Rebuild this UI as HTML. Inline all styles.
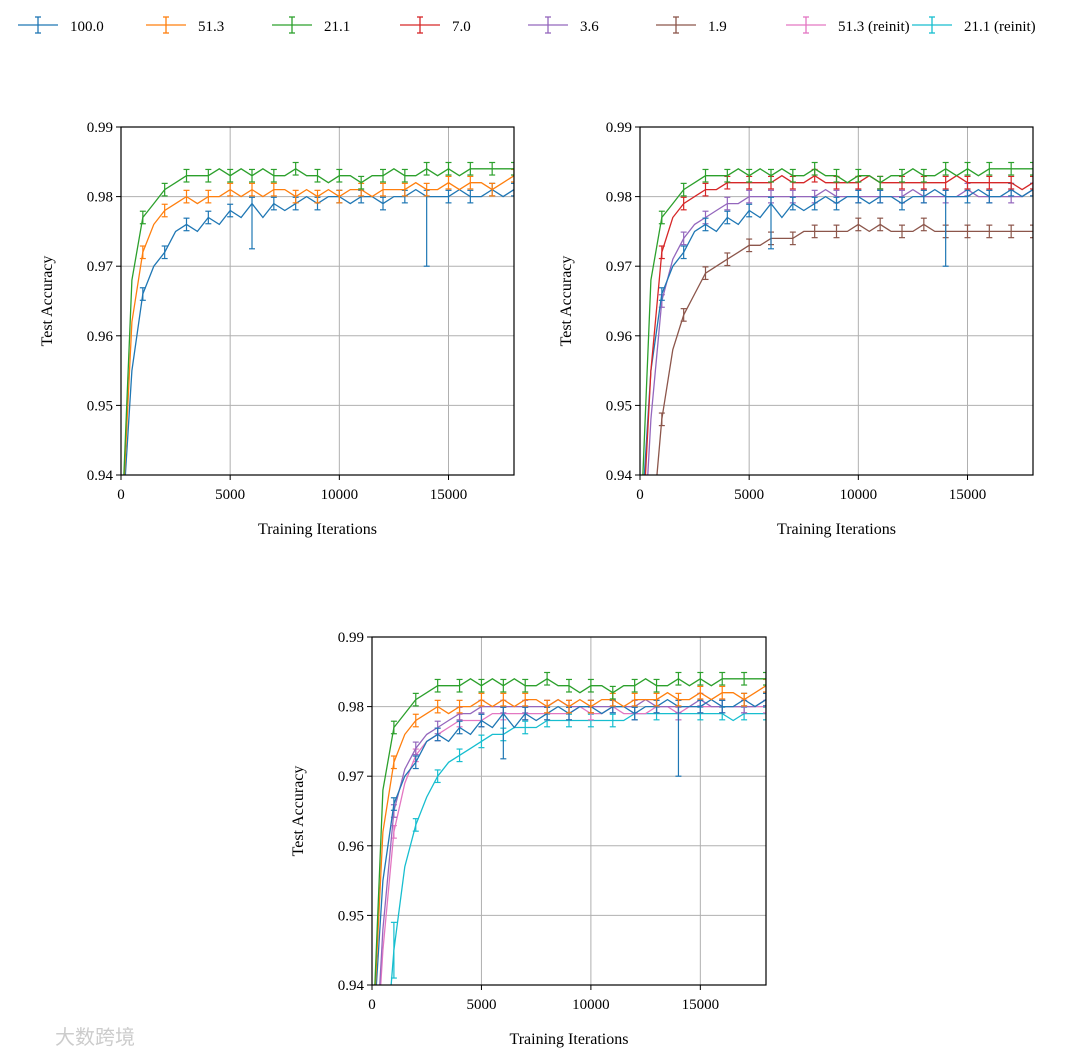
<!DOCTYPE html>
<html><head><meta charset="utf-8"><style>
html,body{margin:0;padding:0;background:#fff;overflow:hidden;}
svg{display:block;font-family:"Liberation Serif","Noto Serif CJK SC",serif;}
</style></head><body>
<svg id="chart" width="1080" height="1061" viewBox="0 0 1080 1061" xmlns="http://www.w3.org/2000/svg">
<g id="legend"></g>
<g id="panels"></g>
<text x="55" y="1044" font-size="20" fill="#ccc" font-family="'Noto Sans CJK SC',sans-serif">大数跨境</text>
</svg>
<script>
const xSteps = [0,500,1000,1500,2000,2500,3000,3500,4000,4500,5000,5500,6000,6500,7000,7500,8000,8500,9000,9500,10000,10500,11000,11500,12000,12500,13000,13500,14000,14500,15000,15500,16000,16500,17000,17500,18000];
const s100 = [0.93,0.955,0.966,0.970,0.972,0.975,0.976,0.975,0.977,0.976,0.978,0.977,0.979,0.977,0.979,0.978,0.979,0.980,0.979,0.980,0.980,0.979,0.980,0.980,0.979,0.980,0.980,0.981,0.980,0.980,0.980,0.981,0.980,0.980,0.981,0.980,0.981];
const s513 = [0.93,0.962,0.972,0.976,0.978,0.979,0.980,0.979,0.980,0.980,0.981,0.980,0.981,0.980,0.981,0.981,0.980,0.981,0.980,0.981,0.980,0.981,0.981,0.980,0.981,0.981,0.981,0.982,0.981,0.981,0.982,0.981,0.982,0.982,0.981,0.982,0.983];
const s211 = [0.93,0.968,0.977,0.979,0.981,0.982,0.983,0.983,0.983,0.984,0.983,0.984,0.983,0.984,0.983,0.983,0.984,0.983,0.983,0.982,0.983,0.983,0.982,0.983,0.983,0.984,0.983,0.983,0.984,0.983,0.984,0.983,0.984,0.984,0.984,0.984,0.984];
const s70 = [0.925,0.955,0.972,0.977,0.979,0.980,0.981,0.981,0.982,0.982,0.982,0.982,0.982,0.983,0.982,0.982,0.983,0.982,0.982,0.982,0.982,0.983,0.982,0.982,0.982,0.982,0.982,0.982,0.982,0.983,0.982,0.982,0.982,0.982,0.982,0.981,0.982];
const s36 = [0.92,0.948,0.965,0.971,0.974,0.976,0.977,0.978,0.979,0.979,0.980,0.980,0.980,0.980,0.980,0.980,0.980,0.981,0.980,0.980,0.980,0.980,0.980,0.980,0.980,0.981,0.980,0.980,0.980,0.980,0.981,0.980,0.980,0.980,0.980,0.980,0.981];
const s19 = [0.90,0.93,0.948,0.958,0.963,0.966,0.969,0.970,0.971,0.972,0.973,0.973,0.974,0.974,0.974,0.975,0.975,0.975,0.975,0.975,0.976,0.975,0.976,0.975,0.975,0.975,0.976,0.975,0.975,0.975,0.975,0.975,0.975,0.975,0.975,0.975,0.975];
const s513r = [0.92,0.945,0.962,0.969,0.973,0.975,0.976,0.977,0.978,0.978,0.978,0.979,0.979,0.979,0.979,0.979,0.979,0.979,0.979,0.980,0.979,0.979,0.980,0.979,0.979,0.979,0.980,0.980,0.979,0.980,0.980,0.980,0.980,0.980,0.980,0.980,0.980];
const s211r = [0.90,0.925,0.945,0.957,0.963,0.967,0.970,0.972,0.973,0.974,0.975,0.976,0.976,0.977,0.977,0.977,0.978,0.978,0.978,0.978,0.978,0.978,0.978,0.978,0.979,0.979,0.979,0.979,0.979,0.979,0.979,0.979,0.979,0.978,0.979,0.979,0.979];
const defaultErr = 0.0009;
const bigErrX = [6000,14000];
const bigErrLow100 = [0.0065,0.010];
const legendLabels = ["100.0","51.3","21.1","7.0","3.6","1.9","51.3 (reinit)","21.1 (reinit)"];
const colors = ["#1f77b4","#ff7f0e","#2ca02c","#d62728","#9467bd","#8c564b","#e377c2","#17becf"];
const allSeries = [s100,s513,s211,s70,s36,s19,s513r,s211r];
const yTicks = [0.94,0.95,0.96,0.97,0.98,0.99];
const xTicks = [0,5000,10000,15000];
const panelDefs = [
  {x:121,y:127,w:393,h:348,series:[0,1,2]},
  {x:640,y:127,w:393,h:348,series:[5,4,0,3,2]},
  {x:372,y:637,w:394,h:348,series:[7,6,4,0,1,2]}
];
const NS="http://www.w3.org/2000/svg";
function mk(tag,attrs,parent){const e=document.createElementNS(NS,tag);for(const k in attrs)e.setAttribute(k,attrs[k]);if(parent)parent.appendChild(e);return e;}

const lg=document.getElementById('legend');
const legendX=[18,146,272,400,528,656,786,912];
legendLabels.forEach((lab,i)=>{
  const g=mk('g',{},lg);
  
  
  const x0=legendX[i];
  mk('line',{x1:x0,y1:25,x2:x0+40,y2:25,stroke:colors[i],'stroke-width':1.3},g);
  mk('line',{x1:x0+20,y1:17,x2:x0+20,y2:33,stroke:colors[i],'stroke-width':1.3},g);
  mk('line',{x1:x0+17,y1:17,x2:x0+23,y2:17,stroke:colors[i],'stroke-width':1.3},g);
  mk('line',{x1:x0+17,y1:33,x2:x0+23,y2:33,stroke:colors[i],'stroke-width':1.3},g);
  const t=mk('text',{x:x0+52,y:31,'font-size':15,fill:'#000'},g);t.textContent=lab;
});

const panels=document.getElementById('panels');
panelDefs.forEach((p,pi)=>{
  const g=mk('g',{},panels);
  
  
  const xs=v=>p.x+v/18000*p.w;
  const ys=v=>p.y+p.h-(v-0.94)/0.05*p.h;
  mk('clipPath',{id:'clip'+pi},g).appendChild(mk('rect',{x:p.x,y:p.y,width:p.w,height:p.h}));
  yTicks.forEach(t=>{
    const gl=mk('line',{x1:p.x,x2:p.x+p.w,y1:ys(t),y2:ys(t),stroke:'#b0b0b0','stroke-width':1},g);
    
    
    mk('line',{x1:p.x-5,x2:p.x,y1:ys(t),y2:ys(t),stroke:'#000'},g);
    const tl=mk('text',{x:p.x-8,y:ys(t)+5,'font-size':15,'text-anchor':'end'},g);
    
    
    tl.textContent=t.toFixed(2);
  });
  xTicks.forEach(t=>{
    const gl=mk('line',{x1:xs(t),x2:xs(t),y1:p.y,y2:p.y+p.h,stroke:'#b0b0b0','stroke-width':1},g);
    
    
    mk('line',{x1:xs(t),x2:xs(t),y1:p.y+p.h,y2:p.y+p.h+5,stroke:'#000'},g);
    const tl=mk('text',{x:xs(t),y:p.y+p.h+24,'font-size':15,'text-anchor':'middle'},g);
    
    
    tl.textContent=String(t);
  });
  const dg=mk('g',{'clip-path':'url(#clip'+pi+')'},g);
  p.series.forEach(si=>{
    const data=allSeries[si];
    const d=data.map((v,i)=>(i?'L':'M')+xs(xSteps[i]).toFixed(1)+','+ys(v).toFixed(1)).join('');
    const path=mk('path',{d:d,fill:'none',stroke:colors[si],'stroke-width':1.3},dg);
    
    
    data.forEach((v,i)=>{
      if(i===0||i%2!==0)return;
      let lo=defaultErr, hi=defaultErr;
      if(si===0){const k=bigErrX.indexOf(xSteps[i]);if(k>=0)lo=bigErrLow100[k];}
      if(si===7&&xSteps[i]===1000){lo=0.004;hi=0.004;}
      const x=xs(xSteps[i]);
      const eb=mk('g',{stroke:colors[si],'stroke-width':1.2},dg);
      
      
      mk('line',{x1:x,x2:x,y1:ys(v-lo),y2:ys(v+hi)},eb);
      mk('line',{x1:x-3,x2:x+3,y1:ys(v-lo),y2:ys(v-lo)},eb);
      mk('line',{x1:x-3,x2:x+3,y1:ys(v+hi),y2:ys(v+hi)},eb);
    });
  });
  const fr=mk('rect',{x:p.x,y:p.y,width:p.w,height:p.h,fill:'none',stroke:'#000','stroke-width':1.2},g);
  
  
  const xl=mk('text',{x:p.x+p.w/2,y:p.y+p.h+59,'font-size':16,'text-anchor':'middle'},g);
  
  
  xl.textContent='Training Iterations';
  const cy=p.y+p.h/2;
  const yl=mk('text',{x:p.x-69,y:cy,'font-size':16,'text-anchor':'middle',transform:'rotate(-90 '+(p.x-69)+' '+cy+')'},g);
  
  
  yl.textContent='Test Accuracy';
});
</script>
</body></html>
